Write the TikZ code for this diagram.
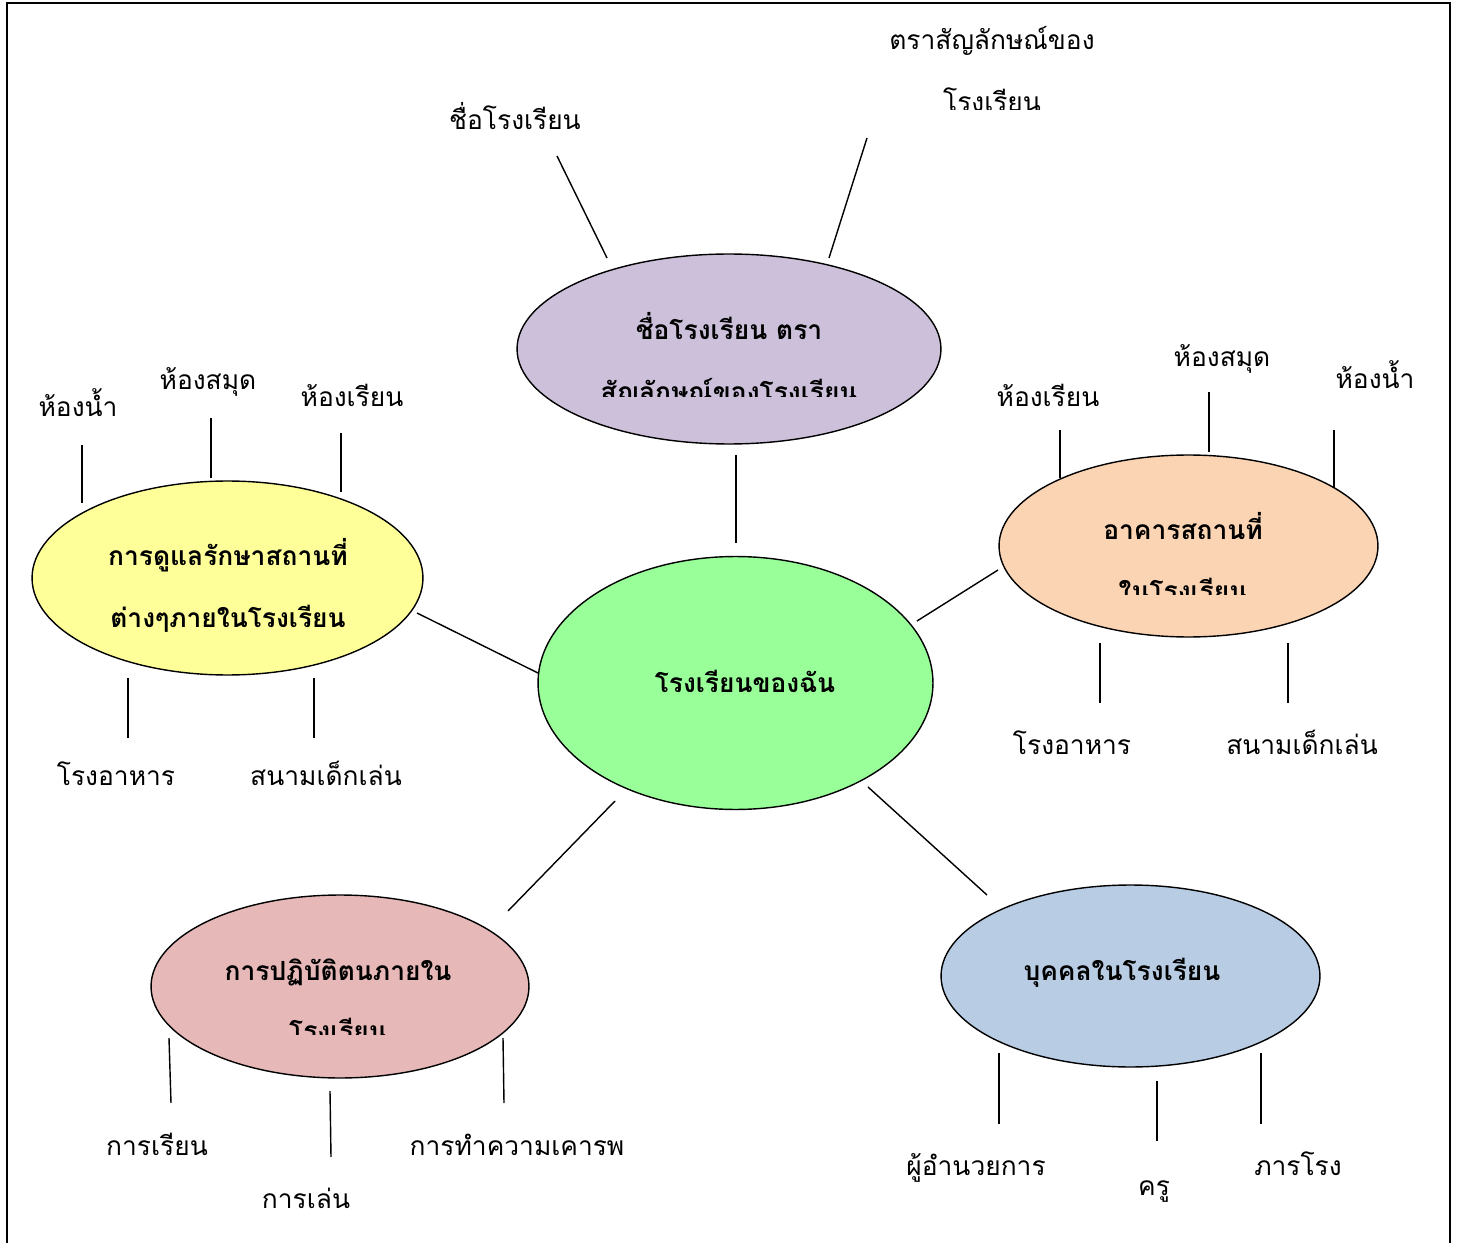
\documentclass[tikz,border=0pt]{standalone}
\usepackage{fontspec}
\newfontfamily\thaifont[Script=Thai]{Loma}
\usetikzlibrary{shapes.geometric}
\definecolor{cpurple}{HTML}{CCC0DA}
\definecolor{cgreen}{HTML}{99FF99}
\definecolor{cyellow}{HTML}{FFFF99}
\definecolor{corange}{HTML}{FBD4B4}
\definecolor{cpink}{HTML}{E6B8B7}
\definecolor{cblue}{HTML}{B8CCE4}
\tikzset{
  bubble/.style={ellipse, draw=black, line width=0.8pt, inner sep=0pt},
  lbl/.style={anchor=base, inner sep=0pt, font=\thaifont\fontsize{15}{18}\selectfont},
  btxt/.style={anchor=base, inner sep=0pt, font=\thaifont\bfseries\fontsize{15}{18}\selectfont},
  spoke/.style={line width=0.8pt},
  frame/.style={line width=1.3pt}
}
\begin{document}
\begin{tikzpicture}[x=0.02cm,y=-0.02cm]
\useasboundingbox (0,0) rectangle (1461,1243);
% frame
\draw[frame] (7,1243) -- (7,3) -- (1450,3) -- (1450,1243);

% ellipses
\node[bubble, fill=cpurple, minimum width=8.48cm, minimum height=3.8cm] (top) at (729,349) {};
\node[bubble, fill=cgreen, minimum width=7.9cm, minimum height=5.06cm] (center) at (735.5,683) {};
\node[bubble, fill=cyellow, minimum width=7.82cm, minimum height=3.88cm] (left) at (227.5,578) {};
\node[bubble, fill=corange, minimum width=7.58cm, minimum height=3.64cm] (right) at (1188.5,546) {};
\node[bubble, fill=cpink, minimum width=7.56cm, minimum height=3.66cm] (bl) at (340,986.5) {};
\node[bubble, fill=cblue, minimum width=7.58cm, minimum height=3.64cm] (br) at (1130.5,976) {};

% ellipse texts
\node[btxt] (topA) at (729,340) {ชื่อโรงเรียน ตรา};
\begin{scope}
\clip (500,360) rectangle (960,397);
\node[btxt] (topB) at (729,402) {สัญลักษณ์ของโรงเรียน};
\end{scope}
\node[btxt] (cenA) at (745,692) {โรงเรียนของฉัน};
\node[btxt] (leftA) at (228,565) {การดูแลรักษาสถานที่};
\node[btxt] (leftB) at (228,627) {ต่างๆภายในโรงเรียน};
\node[btxt] (rightA) at (1183,540) {อาคารสถานที่};
\begin{scope}
\clip (1000,560) rectangle (1370,594);
\node[btxt] (rightB) at (1183,600) {ในโรงเรียน};
\end{scope}
\node[btxt] (blA) at (338,980) {การปฏิบัติตนภายใน};
\begin{scope}
\clip (160,1000) rectangle (520,1034);
\node[btxt] (blB) at (338,1040) {โรงเรียน};
\end{scope}
\node[btxt] (brA) at (1122,980) {บุคคลในโรงเรียน};

% main connectors
\coordinate (c1a) at (736,455); \coordinate (c1b) at (736,543);
\coordinate (c2a) at (417,613); \coordinate (c2b) at (538,673);
\coordinate (c3a) at (917,621); \coordinate (c3b) at (998,570);
\coordinate (c4a) at (615,801); \coordinate (c4b) at (508,911);
\coordinate (c5a) at (868,787); \coordinate (c5b) at (987,895);
\draw[spoke] (c1a) -- (c1b);
\draw[spoke] (c2a) -- (c2b);
\draw[spoke] (c3a) -- (c3b);
\draw[spoke] (c4a) -- (c4b);
\draw[spoke] (c5a) -- (c5b);

% top labels
\node[lbl] (t1) at (515,130) {ชื่อโรงเรียน};
\node[lbl] (t2a) at (992,50) {ตราสัญลักษณ์ของ};
\begin{scope}
\clip (900,75) rectangle (1090,110);
\node[lbl] (t2b) at (992,112) {โรงเรียน};
\end{scope}
\coordinate (s1a) at (607,258); \coordinate (s1b) at (557,156);
\coordinate (s2a) at (829,258); \coordinate (s2b) at (867,138);
\draw[spoke] (s1a) -- (s1b);
\draw[spoke] (s2a) -- (s2b);

% left labels
\node[lbl] (l1) at (78,417) {ห้องน้ำ};
\node[lbl] (l2) at (208,390) {ห้องสมุด};
\node[lbl] (l3) at (352,407) {ห้องเรียน};
\node[lbl] (l4) at (116,785) {โรงอาหาร};
\node[lbl] (l5) at (326,785) {สนามเด็กเล่น};
\coordinate (sl1a) at (82,503); \coordinate (sl1b) at (82,445);
\coordinate (sl2a) at (211,478); \coordinate (sl2b) at (211,418);
\coordinate (sl3a) at (341,492); \coordinate (sl3b) at (341,433);
\coordinate (sl4a) at (128,678); \coordinate (sl4b) at (128,738);
\coordinate (sl5a) at (314,678); \coordinate (sl5b) at (314,738);
\foreach \s in {sl1,sl2,sl3,sl4,sl5} \draw[spoke] (\s a) -- (\s b);

% right labels
\node[lbl] (r1) at (1048,407) {ห้องเรียน};
\node[lbl] (r2) at (1222,367) {ห้องสมุด};
\node[lbl] (r3) at (1375,389) {ห้องน้ำ};
\node[lbl] (r4) at (1072,754) {โรงอาหาร};
\node[lbl] (r5) at (1302,754) {สนามเด็กเล่น};
\coordinate (sr1a) at (1060,478); \coordinate (sr1b) at (1060,430);
\coordinate (sr2a) at (1209,452); \coordinate (sr2b) at (1209,392);
\coordinate (sr3a) at (1334,488); \coordinate (sr3b) at (1334,430);
\coordinate (sr4a) at (1100,643); \coordinate (sr4b) at (1100,703);
\coordinate (sr5a) at (1288,643); \coordinate (sr5b) at (1288,703);
\foreach \s in {sr1,sr2,sr3,sr4,sr5} \draw[spoke] (\s a) -- (\s b);

% bottom-left labels
\node[lbl] (p1) at (157,1155) {การเรียน};
\node[lbl] (p2) at (306,1208) {การเล่น};
\node[lbl] (p3) at (517,1155) {การทำความเคารพ};
\coordinate (sp1a) at (169,1038); \coordinate (sp1b) at (171,1103);
\coordinate (sp2a) at (330,1091); \coordinate (sp2b) at (331,1157);
\coordinate (sp3a) at (503,1038); \coordinate (sp3b) at (504,1103);
\foreach \s in {sp1,sp2,sp3} \draw[spoke] (\s a) -- (\s b);

% bottom-right labels
\node[lbl] (b1) at (976,1175) {ผู้อำนวยการ};
\node[lbl] (b2) at (1154,1195) {ครู};
\node[lbl] (b3) at (1298,1175) {ภารโรง};
\coordinate (sb1a) at (999,1053); \coordinate (sb1b) at (999,1124);
\coordinate (sb2a) at (1157,1081); \coordinate (sb2b) at (1157,1141);
\coordinate (sb3a) at (1261,1053); \coordinate (sb3b) at (1261,1124);
\foreach \s in {sb1,sb2,sb3} \draw[spoke] (\s a) -- (\s b);
\end{tikzpicture}
\end{document}
